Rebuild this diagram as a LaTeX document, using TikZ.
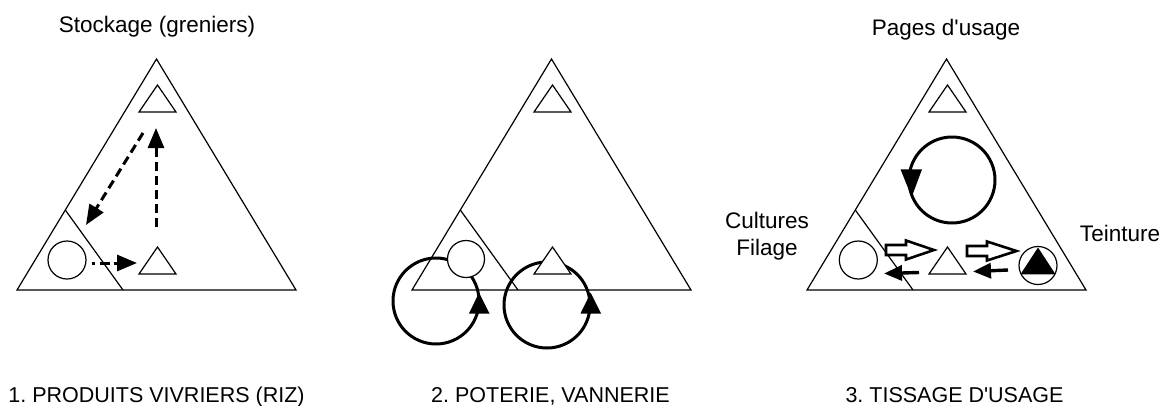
\documentclass[tikz,border=0pt]{standalone}
\usepackage{fontspec}
\newfontfamily\labelfont{Liberation Sans}
\usetikzlibrary{arrows.meta}

\begin{document}
\frenchspacing
\begin{tikzpicture}[x=1pt,y=-1pt,
  thinline/.style={line width=1.2pt},
  loopline/.style={line width=3pt},
  dashline/.style={line width=3pt, dash pattern=on 9pt off 5pt,
    -{Triangle[length=20pt,width=16pt]}},
  blockarrow/.style={line width=2.6pt, fill=white, line join=miter},
  smallarrow/.style={line width=3.4pt, -{Triangle[length=18pt,width=15pt]}},
  txt/.style={font=\labelfont\fontsize{22.5}{27}\selectfont,
    inner sep=0pt, anchor=base, align=center},
  captxt/.style={txt, font=\labelfont\fontsize{21.5}{26}\selectfont},
  panelframe/.pic={
    \draw[thinline] (156.5,59) -- (17,290) -- (296,290) -- cycle;
    \draw[thinline] (65.3,210) -- (123,290);
    \draw[thinline, fill=white] (157.5,85) -- (139,112) -- (176,112) -- cycle;
  },
  ]
\useasboundingbox[fill=white] (0,0) rectangle (1168,405);

% ---------- 1. food crops ----------
\pic at (0,0) {panelframe};
\draw[thinline, fill=white] (157.5,247) -- (139,274) -- (176,274) -- cycle;
\node[draw, thinline, circle, minimum size=38pt, inner sep=0pt] (rice) at (67,260) {};
\coordinate (storeOut) at (143,133);
\coordinate (fieldIn) at (86,225);
\coordinate (tradeOut) at (156,227);
\coordinate (storeIn) at (156,128);
\coordinate (trade) at (137,263);
\draw[dashline] (storeOut) -- (fieldIn);
\draw[dashline] (tradeOut) -- (storeIn);
\draw[dashline, dash pattern=on 3pt off 5pt on 10pt off 4pt] (rice.east) ++(5,3) coordinate (riceOut) -- (trade);
\node[txt] (title1) at (157,32) {Stockage (greniers)};
\node[captxt] (cap1) at (156.5,402) {1. PRODUITS VIVRIERS (RIZ)};

% ---------- 2. pottery, basketry ----------
\pic at (395,0) {panelframe};
\draw[loopline] (436,301) circle[radius=43pt];
\draw[loopline] (547,305) circle[radius=43pt];
\fill (479,292.7) -- (469,313.5) -- (489.5,313.5) -- cycle;
\fill (590.7,292.7) -- (580.5,313.5) -- (601,313.5) -- cycle;
\node[draw, thinline, fill=white, circle, minimum size=37pt, inner sep=0pt] (clay) at (466,259) {};
\draw[thinline, fill=white] (552.5,247) -- (534,274) -- (571,274) -- cycle;
\node[captxt] (cap2) at (550.5,402) {2. POTERIE, VANNERIE};

% ---------- 3. weaving ----------
\pic at (790,0) {panelframe};
\draw[loopline] (952,180) circle[radius=43pt];
\fill (900.5,169.3) -- (922,169.3) -- (911.7,197) -- cycle;
\node[draw, thinline, circle, minimum size=38pt, inner sep=0pt] (cotton) at (858.3,260) {};
\draw[thinline, fill=white] (947.5,247) -- (929,274) -- (966,274) -- cycle;
\node[draw, thinline, circle, minimum size=38pt, inner sep=0pt] (dye) at (1038,265.5) {};
\fill (1038,247.5) -- (1020.5,274.3) -- (1055.5,274.3) -- cycle;
% hollow arrows, left to right
\draw[blockarrow] (886,245) -- (906,245) -- (906,240.5) -- (934,250) -- (906,259.5)
  -- (906,255) -- (886,255) -- cycle;
\draw[blockarrow] (967,246) -- (987,246) -- (987,241.5) -- (1016.5,251) -- (987,260.5)
  -- (987,256) -- (967,256) -- cycle;
% filled arrows, right to left
\coordinate (w1) at (919,272.5);
\coordinate (w2) at (884,273.5);
\coordinate (w3) at (1008,270);
\coordinate (w4) at (973,271.5);
\draw[smallarrow] (w1) -- (w2);
\draw[smallarrow] (w3) -- (w4);
\node[txt] (title3) at (946,35) {Pages d'usage};
\node[txt] (left3) at (767,255) {Cultures\\Filage};
\node[txt] (right3) at (1120,241.7) {Teinture};
\node[captxt] (cap3) at (954.5,402) {3. TISSAGE D'USAGE};
\end{tikzpicture}
\end{document}
